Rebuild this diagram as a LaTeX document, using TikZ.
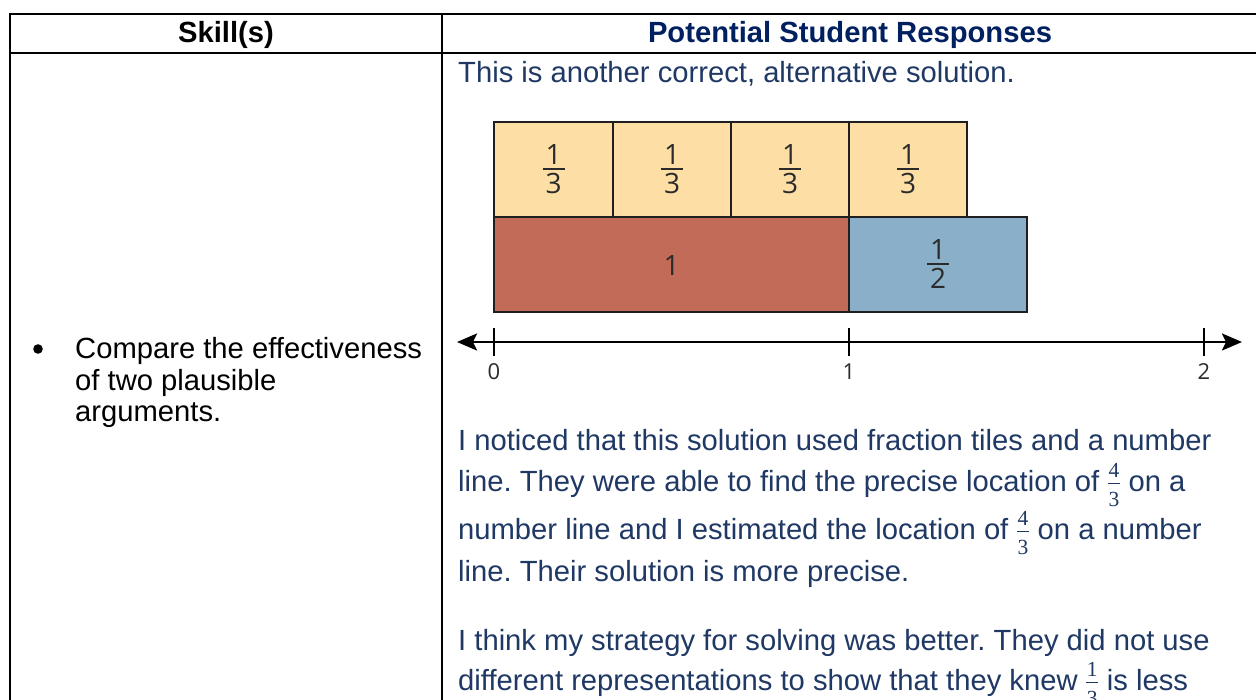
\documentclass[tikz,border=0pt]{standalone}
\usepackage{fontspec}
\setmainfont{Liberation Sans}
\newfontfamily\tilefont{Open Sans}
\newfontfamily\fracfamily{Liberation Serif}
\usetikzlibrary{arrows.meta}
\frenchspacing
\definecolor{navy}{HTML}{002060}
\definecolor{bodyblue}{HTML}{1F3864}
\definecolor{tileyellow}{HTML}{FDDFA5}
\definecolor{tilered}{HTML}{C26B58}
\definecolor{tileblue}{HTML}{8AB0C9}
\definecolor{tilegray}{HTML}{2B2B2B}
\newcommand{\fracfont}{\fracfamily\fontsize{21.5}{21.5}\selectfont}
\newcommand{\ifrac}[2]{\makebox[13pt]{\raisebox{14pt}{\fracfont #1}}\kern-13pt\makebox[13pt]{\rule[7pt]{12pt}{1.5pt}}\kern-13pt\makebox[13pt]{\raisebox{-15pt}{\fracfont #2}}}
\newcommand{\tilefrac}[5]{% name, x, numerator baseline y, num, den
  \node[tilelabel,anchor=base] (#1n) at (#2,#3) {#4};
  \draw[fracbar] (#2-11,#3+4.5) -- (#2+11,#3+4.5);
  \node[tilelabel,anchor=base] (#1d) at (#2,#3+28.5) {#5};
}
\begin{document}
\begin{tikzpicture}[x=1pt,y=-1pt,
  rule/.style={line width=2.3pt},
  bodytext/.style={anchor=base west, inner sep=0, text=bodyblue, font=\fontsize{29.2}{34}\selectfont},
  head/.style={anchor=base, inner sep=0, font=\fontsize{29.2}{34}\selectfont\bfseries},
  skilltext/.style={anchor=base west, inner sep=0, text=black, font=\fontsize{29.2}{34}\selectfont},
  tile/.style={draw=black!88, line width=2pt},
  tilelabel/.style={inner sep=0, text=tilegray, font=\tilefont\fontsize{28}{30}\selectfont},
  fracbar/.style={draw=tilegray, line width=2pt},
  ticklabel/.style={anchor=base, inner sep=0, text=tilegray, font=\tilefont\fontsize{22}{24}\selectfont},
  numline/.style={line width=2.4pt, {Stealth[length=20pt,width=17pt,inset=4pt]}-{Stealth[length=20pt,width=17pt,inset=4pt]}},
  tick/.style={line width=2pt}
]
\useasboundingbox (0,0) rectangle (1256,700);
\fill[white] (0,0) rectangle (1256,700);

% table rules
\draw[rule] (10,14) -- (1262,14);
\draw[rule] (10,53) -- (1262,53);
\draw[rule] (10,13) -- (10,705);
\draw[rule] (442,13) -- (442,705);
\draw[rule] (1257.5,13) -- (1257.5,705);

% headers
\node[head, text=black] (h1) at (226,43) {Skill(s)};
\node[head, text=navy] (h2) at (850,43) {Potential Student Responses};

% skill column
\fill (38,349) circle (4.8);
\node[skilltext] (s1) at (75,359) {Compare the effectiveness};
\node[skilltext] (s2) at (75,391) {of two plausible};
\node[skilltext] (s3) at (75,422) {arguments.};

% response text
\node[bodytext] (r0) at (458,83) {This is another correct, alternative solution.};

% tiles
\draw[tile, fill=tileyellow] (494,122) rectangle (613,217);
\draw[tile, fill=tileyellow] (613,122) rectangle (731,217);
\draw[tile, fill=tileyellow] (731,122) rectangle (849,217);
\draw[tile, fill=tileyellow] (849,122) rectangle (967,217);
\draw[tile, fill=tilered] (494,217) rectangle (849,312);
\draw[tile, fill=tileblue] (849,217) rectangle (1027,312);
\tilefrac{ta}{553.5}{165}{1}{3}
\tilefrac{tb}{672}{165}{1}{3}
\tilefrac{tc}{790}{165}{1}{3}
\tilefrac{td}{908}{165}{1}{3}
\node[tilelabel,anchor=base] (one) at (671.5,276) {1};
\tilefrac{th}{938}{260}{1}{2}

% number line
\coordinate (nl) at (457,342);
\coordinate (nr) at (1242,342);
\draw[numline] (nl) -- (nr);
\coordinate (t0) at (494,342);
\coordinate (t1) at (849,342);
\coordinate (t2) at (1204,342);
\foreach \t in {t0,t1,t2} \draw[tick] ([yshift=-14pt]\t) -- ([yshift=14pt]\t);
\node[ticklabel] (l0) at (494,380) {0};
\node[ticklabel] (l1) at (849,380) {1};
\node[ticklabel] (l2) at (1204,380) {2};

\node[bodytext] (p1) at (458,450) {I noticed that this solution used fraction tiles and a number};
\node[bodytext] (p2) at (458,491) {line. They were able to find the precise location of \ifrac{4}{3} on a};
\node[bodytext] (p3) at (458,539) {number line and I estimated the location of \ifrac{4}{3} on a number};
\node[bodytext] (p4) at (458,581) {line. Their solution is more precise.};
\node[bodytext] (q1) at (458,650) {I think my strategy for solving was better. They did not use};
\node[bodytext] (q2) at (458,690) {different representations to show that they knew \ifrac{1}{3} is less};
\end{tikzpicture}
\end{document}
